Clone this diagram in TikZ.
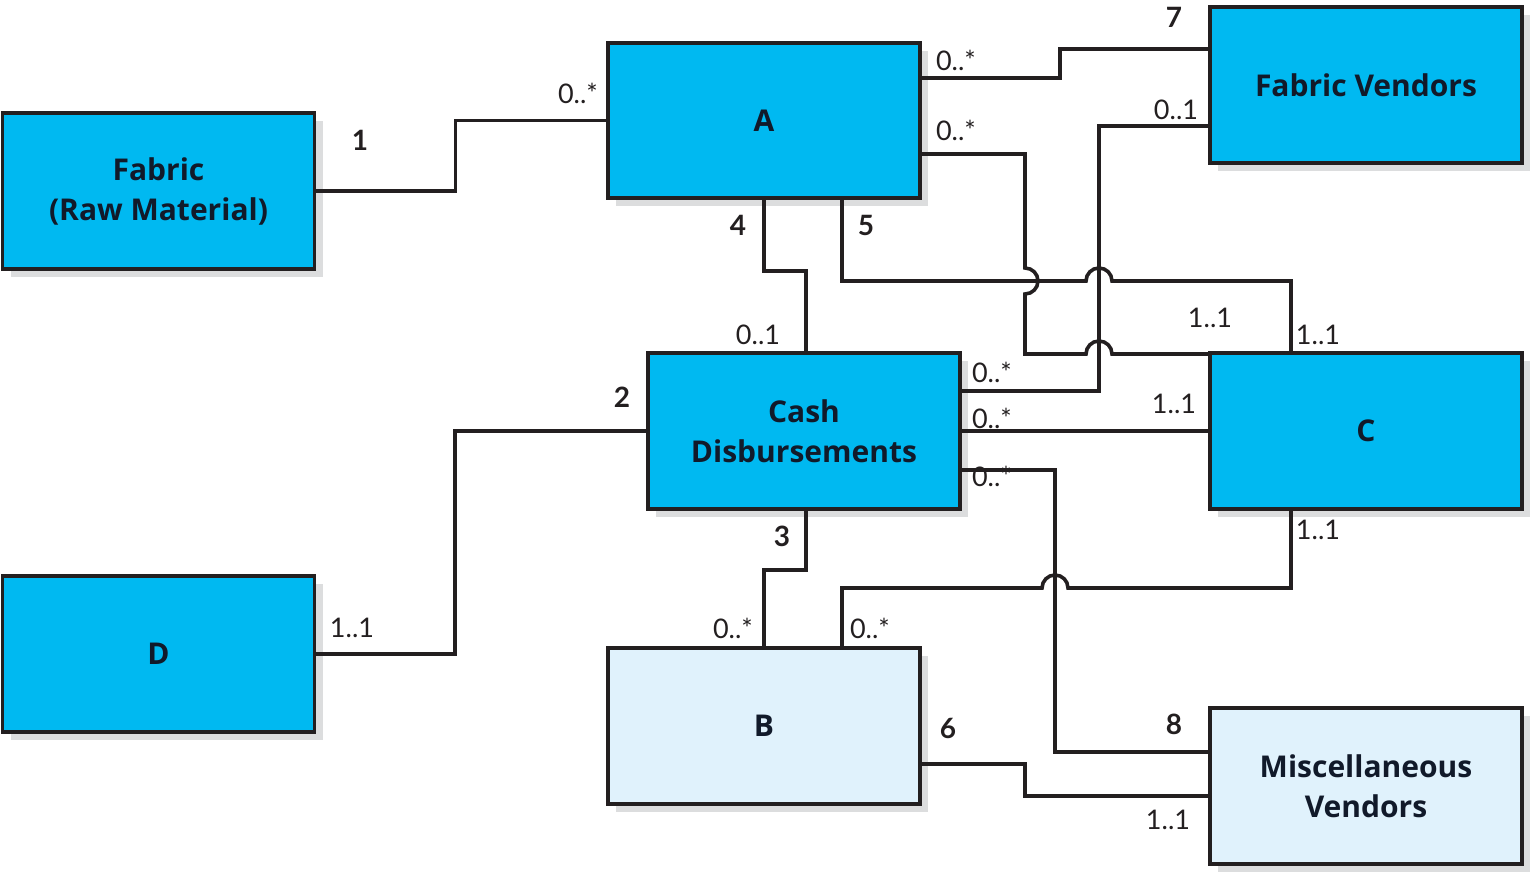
\documentclass[tikz,border=0pt]{standalone}
\usepackage{fontspec}
\setmainfont{Lato}
\newfontfamily\titlefont{Open Sans}
\usetikzlibrary{calc,shadows}
\definecolor{boxblue}{HTML}{00B9F1}
\definecolor{boxlight}{HTML}{E0F2FC}
\definecolor{shadowgray}{HTML}{DCDDDE}
\definecolor{linecol}{HTML}{231F20}
\definecolor{textcol}{HTML}{111A2A}
\tikzset{
  entity/.style={draw=linecol, line width=3.8pt, minimum width=312pt, minimum height=156pt,
    inner sep=0pt, align=center, text=textcol,
    font=\titlefont\fontsize{30}{40}\selectfont\bfseries,
    drop shadow={shadow xshift=8pt, shadow yshift=-8pt, fill=shadowgray, opacity=1}},
  dark/.style={entity, fill=boxblue},
  light/.style={entity, fill=boxlight},
  conn/.style={draw=linecol, line width=3.6pt},
  mult/.style={text=linecol, font=\fontsize{27}{30}\selectfont, inner sep=0pt},
  num/.style={text=linecol, font=\fontsize{28}{30}\selectfont\bfseries, inner sep=0pt},
}
\begin{document}
\begin{tikzpicture}[x=1pt,y=1pt]
\useasboundingbox (0,0) rectangle (1530,873);
% entities
\node[dark]  (fab) at (158.5,682) {Fabric\\(Raw Material)};
\node[dark, minimum height=155pt] (A) at (764,752.5) {A};
\node[dark]  (FV)  at (1366,788) {Fabric Vendors};
\node[dark]  (CD)  at (804,442) {Cash\\Disbursements};
\node[dark]  (C)   at (1366,442) {C};
\node[dark]  (D)   at (158.5,219) {D};
\node[light] (B)   at (764,147) {B};
\node[light] (MV)  at (1366,87) {Miscellaneous\\Vendors};

% 1: Fabric -- A
\draw[conn] (fab.east) -- ++(139,0) |- (A.west);
% 7: A -- Fabric Vendors
\draw[conn] (A.east |- 0,795) -- (1060,795) |- (FV.west |- 0,824);
% FV -- Cash Disbursements
\draw[conn] (FV.west |- 0,747) -- (1099,747) -- (1099,482) -- (CD.east |- 0,482);
% A -- C (top-left corner)
\draw[conn] (A.east |- 0,719) -- (1025,719) -- (1025,605)
  arc[start angle=90, end angle=-90, radius=13] -- (1025,519) -- (1086,519)
  arc[start angle=180, end angle=0, radius=13] -- (C.west |- 0,519);
% 5: A -- C
\draw[conn] ($(A.south)+(78,0)$) -- (842,592) -- (1086,592)
  arc[start angle=180, end angle=0, radius=13] -- (1291,592) -- ($(C.north)+(-75,0)$);
% 4: A -- Cash Disbursements
\draw[conn] (A.south) -- (764,602) -- (806,602) -- ($(CD.north)+(2,0)$);
% 2: D -- Cash Disbursements
\draw[conn] (D.east) -- (455,219) |- (CD.west);
% CD -- C
\draw[conn] (CD.east) -- (C.west);
% 3: CD -- B
\draw[conn] ($(CD.south)+(2,0)$) -- (806,303) -- (764,303) -- (B.north);
% C -- B
\draw[conn] ($(C.south)+(-75,0)$) -- (1291,285) -- (1068,285)
  arc[start angle=0, end angle=180, radius=13] -- (842,285) -- ($(B.north)+(78,0)$);
% 8: CD -- Misc Vendors
\draw[conn] (CD.east |- 0,403) -- (1055,403) |- (MV.west |- 0,121);
% 6: B -- Misc Vendors
\draw[conn] (B.east |- 0,109) -- (1025,109) |- (MV.west |- 0,77);

% numbers
\node[num] (n1) at (360,733) {1};
\node[num] (n7) at (1174,856) {7};
\node[num] (n4) at (738,648) {4};
\node[num] (n5) at (866,648) {5};
\node[num] (n2) at (622,476) {2};
\node[num] (n3) at (782,337) {3};
\node[num] (n6) at (948,145) {6};
\node[num] (n8) at (1174,149) {8};

% multiplicities
\node[mult] (m1)  at (578,780) {0..*};
\node[mult] (m2)  at (956,813) {0..*};
\node[mult] (m3)  at (1176,763) {0..1};
\node[mult] (m4)  at (956,743) {0..*};
\node[mult] (m5)  at (1210,555) {1..1};
\node[mult] (m6)  at (1318,538) {1..1};
\node[mult] (m7)  at (758,538) {0..1};
\node[mult] (m8)  at (992,501) {0..*};
\node[mult] (m9)  at (992,455) {0..*};
\node[mult] (m10) at (1174,469) {1..1};
\node[mult] (m11) at (992,397) {0..*};
\node[mult] (m12) at (1318,343) {1..1};
\node[mult] (m13) at (352,245) {1..1};
\node[mult] (m14) at (733,245) {0..*};
\node[mult] (m15) at (870,245) {0..*};
\node[mult] (m16) at (1168,53) {1..1};
\end{tikzpicture}
\end{document}
